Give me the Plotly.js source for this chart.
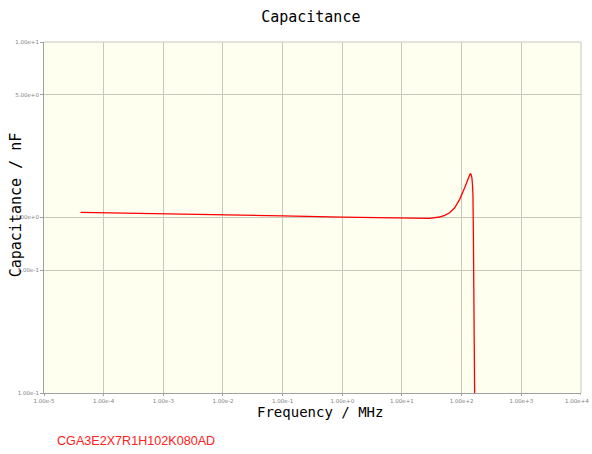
<!DOCTYPE html>
<html><head><meta charset="utf-8">
<script src="https://cdn.plot.ly/plotly-3.0.1.min.js"></script>
<style>html,body{margin:0;padding:0;background:#fff}#chart{width:592px;height:454px}</style>
</head><body><div id="chart"></div>
<script>
const freqMHz = [4.09e-5, 1e-4, 1e-3, 1e-2, 1e-1, 1, 10, 20, 29, 42.8, 52, 63, 76.4, 92.7, 103, 112.4, 120, 127.5, 134, 139.7, 144, 148.6, 152, 154.5, 157, 160, 163, 165.5];
const capNF   = [1.070, 1.065, 1.055, 1.038, 1.022, 1.006, 0.991, 0.984, 0.990, 1.007, 1.030, 1.065, 1.137, 1.270, 1.370, 1.478, 1.570, 1.651, 1.730, 1.785, 1.760, 1.686, 1.530, 1.356, 0.875, 0.334, 0.152, 0.090];
const xTickVals = [1e-5,1e-4,1e-3,1e-2,1e-1,1,10,100,1000,10000];
const xTickText = ["1.00e-5","1.00e-4","1.00e-3","1.00e-2","1.00e-1","1.00e+0","1.00e+1","1.00e+2","1.00e+3","1.00e+4"];
const yTickVals = [0.1,0.5,1,5,10];
const yTickText = ["1.00e-1","5.00e-1","1.00e+0","5.00e+0","1.00e+1"];
const partName = "CGA3E2X7R1H102K080AD";

const tickFont = {family:'DejaVu Sans', size:5.5, color:'#808080'};
const axisCommon = {
  type:'log', showgrid:true, gridcolor:'#c8c8bc', gridwidth:1,
  showline:true, linecolor:'#a0a0a0', linewidth:1, mirror:false,
  ticks:'outside', ticklen:3, tickcolor:'#a0a0a0',
  tickfont:tickFont, zeroline:false, fixedrange:true
};
const lastX = xTickVals.length - 1;
const layout = {
  width:592, height:454,
  margin:{l:44, r:11, t:42, b:61},
  paper_bgcolor:'#ffffff', plot_bgcolor:'#fffff0',
  showlegend:false,
  title:{text:'Capacitance', x:0.525, xanchor:'center', y:0.963, yanchor:'middle',
         font:{family:'DejaVu Sans Mono', size:15, color:'#000'}},
  xaxis:Object.assign({}, axisCommon, {
    range:[-5,4.0005], tickvals:xTickVals.slice(0,lastX), ticktext:xTickText.slice(0,lastX), ticklen:2
  }),
  yaxis:Object.assign({}, axisCommon, {
    range:[-1,1.0005], tickvals:yTickVals, ticktext:yTickText
  }),
  shapes:[
    {type:'line', xref:'paper', yref:'paper', x0:0, x1:1, y0:1, y1:1, line:{color:'#c8c8bc', width:1}},
    {type:'line', xref:'paper', yref:'paper', x0:1, x1:1, y0:0, y1:1, line:{color:'#c8c8bc', width:1}},
    {type:'line', xref:'x', yref:'paper', x0:xTickVals[lastX], x1:xTickVals[lastX], y0:0, y1:-0.006, line:{color:'#a0a0a0', width:1}}
  ],
  annotations:[
    {text:xTickText[lastX], xref:'paper', yref:'paper', x:1, xshift:10, y:0, yshift:-3, xanchor:'right', yanchor:'top',
     showarrow:false, font:tickFont},
    {text:'Frequency / MHz', xref:'paper', yref:'paper', x:0.5135, y:-0.054, xanchor:'center', yanchor:'middle',
     showarrow:false, font:{family:'DejaVu Sans Mono', size:14, color:'#000'}},
    {text:'Capacitance / nF', xref:'paper', yref:'paper', x:-0.052, y:0.535, xanchor:'center', yanchor:'middle',
     textangle:-90, showarrow:false, font:{family:'DejaVu Sans Mono', size:15, color:'#000'}},
    {text:partName, xref:'paper', yref:'paper', x:0.0205, y:-0.137, xanchor:'left', yanchor:'middle',
     showarrow:false, font:{family:'Liberation Sans', size:12.6, color:'#ff2020'}}
  ]
};
const data = [{
  x:freqMHz, y:capNF, type:'scatter', mode:'lines',
  line:{color:'#ff0000', width:1.3}, hoverinfo:'skip', cliponaxis:true
}];
Plotly.newPlot('chart', data, layout, {staticPlot:true, displayModeBar:false});
</script></body></html>
